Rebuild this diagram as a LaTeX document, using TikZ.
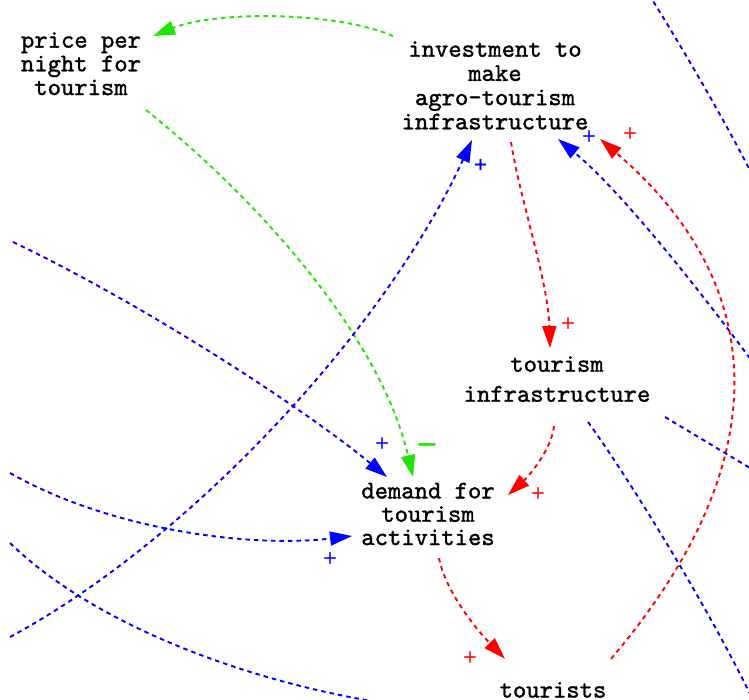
\documentclass[tikz,border=0pt]{standalone}
\usepackage{fontspec}
\usetikzlibrary{arrows.meta}
\newfontfamily\cldmono{lmmono10-regular}[Extension=.otf, FakeBold=1.3]
\newfontfamily\cldsign{DejaVu Sans}[FakeBold=1.5]
\definecolor{cldblue}{RGB}{0,0,255}
\definecolor{cldred}{RGB}{255,0,0}
\definecolor{cldgreen}{RGB}{30,230,0}
\tikzset{
  var/.style={font=\cldmono\fontsize{25.4}{23.7}\selectfont, align=center, inner sep=0pt, anchor=base},
  link/.style={dash pattern=on 4.5pt off 4pt, line width=1.9pt, -{Triangle[length=22pt,width=14pt]}},
  plainlink/.style={dash pattern=on 4.5pt off 4pt, line width=1.9pt},
  pol/.style={font=\cldsign\fontsize{17.5}{17.5}\selectfont, inner sep=0pt},
}
\begin{document}
\begin{tikzpicture}[x=1pt,y=-1pt]
\useasboundingbox (0,0) rectangle (749,699);
\fill[white] (0,0) rectangle (749,699);
\clip (0,0) rectangle (749,699);

% variables
\node[var] (price) at (81,95) {price per\\night for\\tourism};
\node[var, font=\cldmono\fontsize{25.4}{24.2}\selectfont] (invest) at (495,129.3) {investment to\\make\\agro-tourism\\infrastructure};
\node[var] (infra) at (557,401.7) {tourism\\[6.3pt]infrastructure};
\node[var, font=\cldmono\fontsize{25.4}{23.3}\selectfont] (demand) at (428,545) {demand for\\tourism\\activities};
\node[var] (tourists) at (553,697.5) {tourists};

% loose ends of links that run out of the frame
\coordinate (w1) at (10,637);
\coordinate (w2) at (13,242);
\coordinate (w3) at (10,473);
\coordinate (w4) at (10,543);
\coordinate (w4e) at (420,708);
\coordinate (e1) at (760,372);
\coordinate (e2s) at (640,-20);
\coordinate (e2e) at (760,190);
\coordinate (e3) at (756,706);
\coordinate (e4) at (760,474);

% green links
\draw[link, cldgreen] ([shift={(-102,-93.3)}]invest.base) .. controls (335,11) and (215,11) .. ([shift={(72,-59)}]price.base);
\draw[link, cldgreen] ([shift={(65,15)}]price.base) .. controls (256,198) and (380,335) .. ([shift={(-15,-68)}]demand.base);

% blue links
\draw[link, cldblue] (w1) .. controls (190,540) and (385,330) .. ([shift={(-23,10.7)}]invest.base);
\draw[link, cldblue] (w2) .. controls (143,304) and (302,407) .. ([shift={(-41,-68)}]demand.base);
\draw[link, cldblue] (w3) .. controls (110,530) and (250,548) .. ([shift={(-76,-9)}]demand.base);
\draw[plainlink, cldblue] (w4) .. controls (105,635) and (280,692) .. (w4e);
\draw[link, cldblue] (e1) .. controls (700,290) and (620,190) .. ([shift={(63,9.7)}]invest.base);
\draw[plainlink, cldblue] (e2s) .. controls (690,60) and (730,130) .. (e2e);
\draw[plainlink, cldblue] ([shift={(31,20.3)}]infra.base) .. controls (630,480) and (710,610) .. (e3);
\draw[plainlink, cldblue] ([shift={(108,15.3)}]infra.base) -- (e4);

% red links
\draw[link, cldred] ([shift={(16,12.7)}]invest.base) .. controls (520,200) and (548,280) .. ([shift={(-7,-53.7)}]infra.base);
\draw[link, cldred] ([shift={(-3,24.3)}]infra.base) .. controls (552,448) and (530,475) .. ([shift={(80,-50)}]demand.base);
\draw[link, cldred] ([shift={(11,13)}]demand.base) .. controls (445,590) and (475,628) .. ([shift={(-48,-38.7)}]tourists.base);
\draw[link, cldred] ([shift={(58,-38.7)}]tourists.base) .. controls (767,476) and (782,295) .. ([shift={(105,9.7)}]invest.base);

% polarities
\node[pol, cldgreen, font=\cldsign\fontsize{26}{26}\selectfont] (m1) at (427,448) {−};
\node[pol, cldblue] (p1) at (480.5,164.5) {+};
\node[pol, cldblue] (p2) at (589,136) {+};
\node[pol, cldred] (p3) at (630,133) {+};
\node[pol, cldred] (p4) at (568,323) {+};
\node[pol, cldblue] (p5) at (382,443) {+};
\node[pol, cldred] (p6) at (538,493) {+};
\node[pol, cldblue] (p7) at (330,558) {+};
\node[pol, cldred] (p8) at (470,657) {+};
\end{tikzpicture}
\end{document}
